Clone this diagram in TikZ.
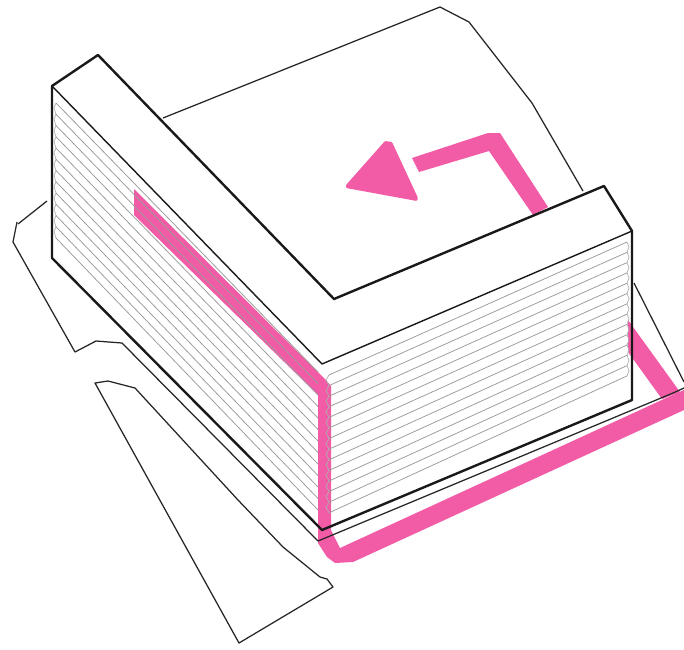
\documentclass[tikz,border=0pt]{standalone}
\definecolor{hotpink}{HTML}{F25CA6}
\definecolor{louvre}{HTML}{9A9A9A}
\tikzset{
  pinkfill/.style={fill=hotpink,draw=none},
  heavy/.style={draw=black!90,line width=2.4pt,line cap=round,line join=round},
  medium/.style={draw=black!90,line width=1.4pt,line join=round},
  site/.style={draw=black!85,line width=1.25pt,line join=round},
  louvreline/.style={draw=louvre,line width=0.75pt},
  tickline/.style={draw=louvre!80,line width=0.7pt}
}
\begin{document}
\begin{tikzpicture}[x=1pt,y=-1pt]
\useasboundingbox[fill=white] (0,0) rectangle (684,649);
% pink route
\fill[pinkfill] (134,189) -- (326,380) -- (331,386) -- (331,530) -- (340,548) -- (677,393)
  -- (684,390) -- (684,410) -- (353,562) -- (335,563) -- (327,557) -- (318,543) -- (318,395)
  -- (134,215) -- cycle;
\fill[pinkfill] (628,320) -- (680,392) -- (662,399) -- (628,352) -- cycle;
\fill[pinkfill] (412,158) -- (488,133) -- (500,133) -- (548,207) -- (533,215) -- (489,151) -- (419,172) -- cycle;
\fill[pinkfill,rounded corners=1pt] (385,141) -- (392,142) -- (418,198) -- (417,201) -- (346,188) -- (346,185) -- cycle;
% louvres, left face
\foreach \i in {0,...,12}{
  \pgfmathsetmacro{\ya}{103+\i*11.25}
  \pgfmathsetmacro{\yb}{372+\i*11.5}
  \draw[louvreline] (56,\ya) -- (318,\yb);
  \ifnum\i<12
    \draw[tickline] (56,\ya) -- (54,\ya+5) -- (56,\ya+11.25);
  \fi
}
% louvres, right face
\foreach \i in {0,...,13}{
  \pgfmathsetmacro{\yl}{375+\i*10.6}
  \pgfmathsetmacro{\yr}{242+\i*10.3}
  \draw[louvreline] (329,\yl) -- (627,\yr);
  \ifnum\i<13
    \draw[tickline] (627,\yr) -- (629,\yr+5) -- (627,\yr+10.3);
    \draw[tickline] (329,\yl) -- (326,\yl+5) -- (329,\yl+10.6);
  \fi
}
% site outline
\draw[site] (163,118) -- (440,7) -- (469,22) -- (532,103) -- (583,191);
\draw[site] (47,201) -- (18,224);
\draw[site] (17,222) -- (13,242) -- (75,352) -- (96,341) -- (122,343) -- (318,541) -- (673,393) -- (684,388);
\draw[site] (634,283) -- (684,382);
\draw[site] (95,383) -- (108,381) -- (135,388) -- (238,500) -- (283,547) -- (320,577) -- (327,579) -- (333,587) -- (239,643) -- cycle;
% building
\draw[medium] (52,86) -- (322,364) -- (632,231);
\draw[heavy] (52,86) -- (98,55) -- (334,299) -- (604,186) -- (632,231) -- (632,400) -- (322,530) -- (52,258) -- cycle;
\end{tikzpicture}
\end{document}
